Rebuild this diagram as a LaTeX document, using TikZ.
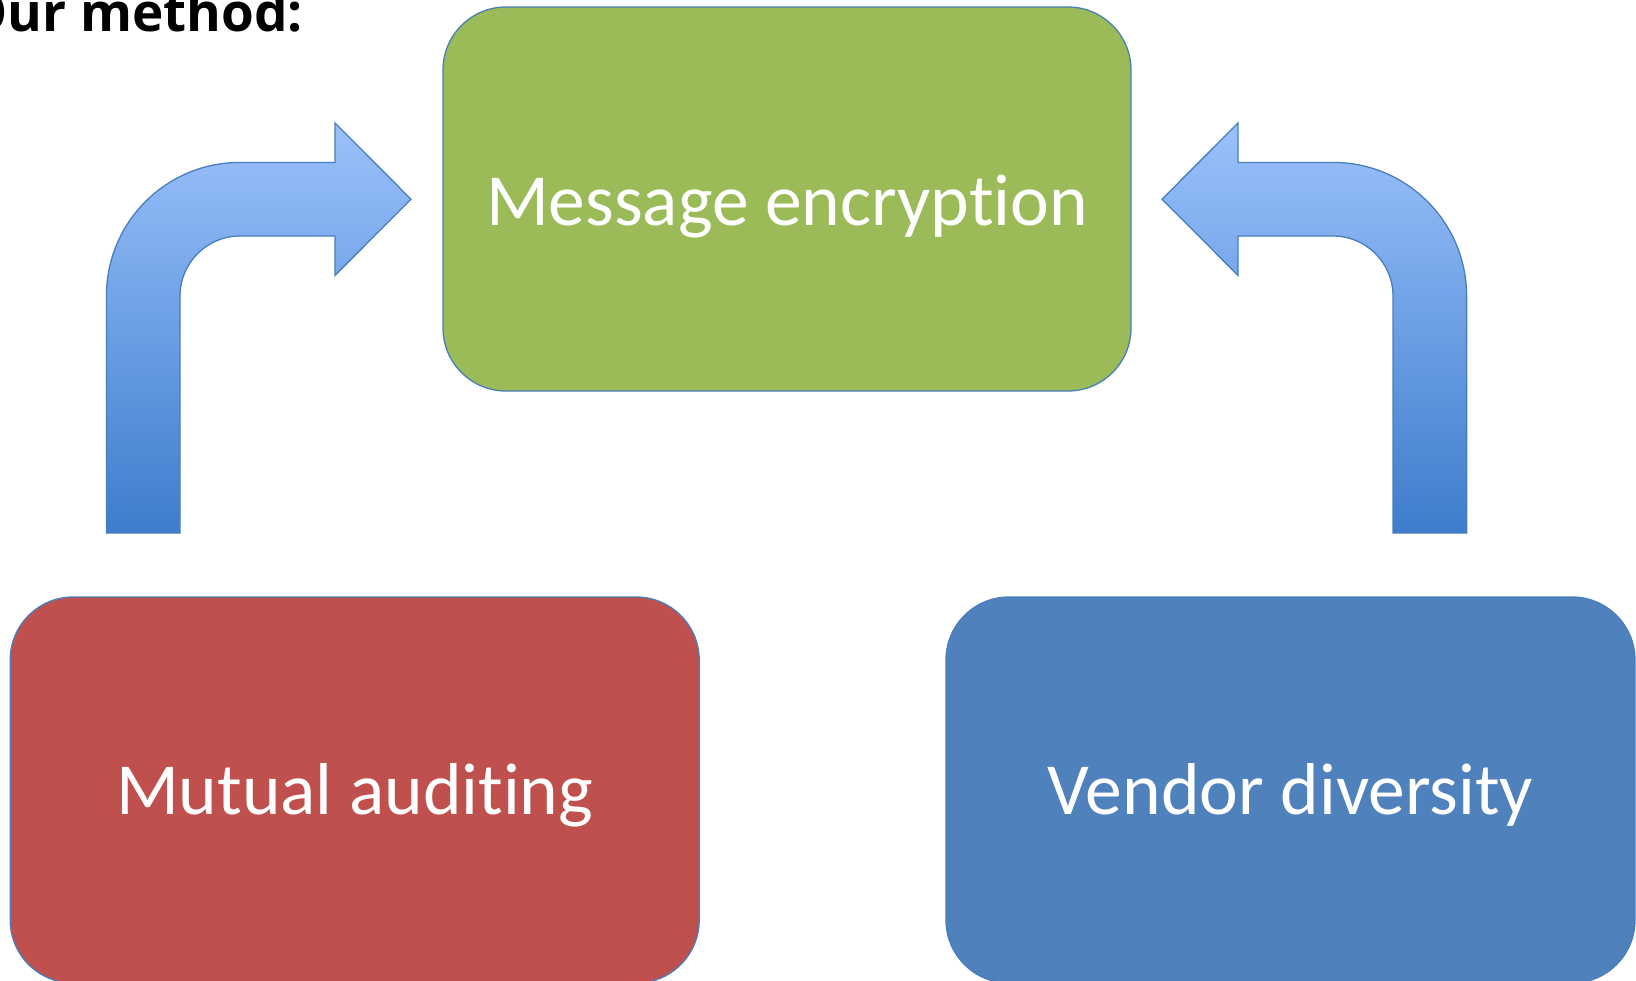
\documentclass[tikz,border=0pt]{standalone}
\usepackage{fontspec}
\setmainfont{Carlito}[Ligatures={NoCommon,NoDiscretionary}]
\newfontfamily\titlefont{Open Sans}
\definecolor{boxgreen}{HTML}{9BBB59}
\definecolor{boxred}{HTML}{C0504D}
\definecolor{boxblue}{HTML}{4F81BD}
\definecolor{edgeblue}{HTML}{4A7EBB}
\definecolor{arrtop}{HTML}{9BC1FC}
\definecolor{arrmid}{HTML}{7BA6E8}
\definecolor{arrbot}{HTML}{3D7DCC}
\tikzset{
  stagebox/.style={draw=edgeblue, line width=1.3pt, rounded corners=63pt,
    inner sep=0pt, text=white},
  stagetext/.style={text=white, inner sep=0pt, anchor=base,
    font=\fontsize{73.5}{88}\selectfont},
  bentarrow/.style={draw=edgeblue, line width=1.3pt, line join=miter,
    top color=arrtop, middle color=arrmid, bottom color=arrbot}
}
\begin{document}
\begin{tikzpicture}[x=1pt,y=-1pt]
\useasboundingbox (0,0) rectangle (1636,980);
\fill[white] (0,0) rectangle (1636,980);

% title (partly off the page at the left)
\node[anchor=base east, inner sep=0pt, font=\titlefont\bfseries\fontsize{53}{63}\selectfont] (title) at (303,31.5) {Our method:};

% boxes
\node[stagebox, fill=boxgreen, minimum width=688pt, minimum height=384pt] (enc) at (787,199) {};
\node[stagebox, fill=boxred, minimum width=689pt, minimum height=386pt] (aud) at (354.7,790) {};
\node[stagebox, fill=boxblue, minimum width=689pt, minimum height=386pt] (ven) at (1290.5,790) {};

\node[stagetext] (enclbl) at (787,225.5) {Message encryption};
\node[stagetext] (audlbl) at (354.7,814) {Mutual auditing};
\node[stagetext] (venlbl) at (1290.5,814) {Vendor diversity};

% left bent arrow
\draw[bentarrow] (106.4,533) -- (106.4,296)
  .. controls (106.4,222.2) and (166.2,162.4) .. (240,162.4)
  -- (335,162.4) -- (335,123) -- (411,199.2) -- (335,275.4) -- (335,236)
  -- (240,236) .. controls (206.9,236) and (180,262.9) .. (180,296)
  -- (180,533) -- cycle;

% right bent arrow (mirror image)
\begin{scope}[xshift=1573pt, xscale=-1]
\draw[bentarrow] (106.4,533) -- (106.4,296)
  .. controls (106.4,222.2) and (166.2,162.4) .. (240,162.4)
  -- (335,162.4) -- (335,123) -- (411,199.2) -- (335,275.4) -- (335,236)
  -- (240,236) .. controls (206.9,236) and (180,262.9) .. (180,296)
  -- (180,533) -- cycle;
\end{scope}
\end{tikzpicture}
\end{document}
